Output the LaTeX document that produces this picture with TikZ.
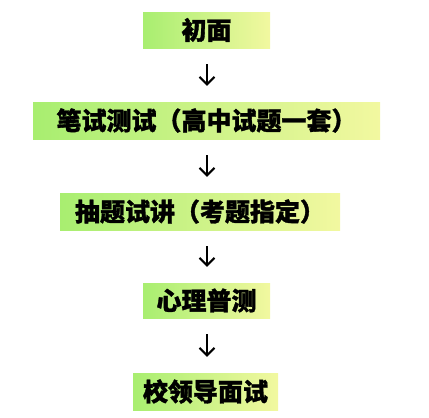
\documentclass[tikz,border=0pt]{standalone}
\usepackage{fontspec}
\newfontfamily\cjk{Noto Sans CJK SC}[BoldFeatures={FakeBold=1.3}]
\usetikzlibrary{arrows.meta}
\definecolor{gleft}{RGB}{168,238,112}
\definecolor{gright}{RGB}{242,248,160}
\tikzset{
  stepbox/.style={left color=gleft, right color=gright, draw=none, inner sep=0pt,
    font=\cjk\bfseries\fontsize{25}{28}\selectfont, text=black},
  flowarrow/.style={line width=2pt, -{Straight Barb[length=7.5pt,width=15pt,line width=2pt]},
    shorten <=16pt, shorten >=16pt}
}
\begin{document}
\begin{tikzpicture}[x=1pt,y=-1pt]
\useasboundingbox (0,0) rectangle (429,418);
\node[stepbox, minimum width=127pt, minimum height=36pt] (n1) at (206.5,30) {初面};
\node[stepbox, minimum width=347pt, minimum height=37pt] (n2) at (206.5,120.5) {笔试测试（高中试题一套）};
\node[stepbox, minimum width=280pt, minimum height=37pt] (n3) at (200,211.5) {抽题试讲（考题指定）};
\node[stepbox, minimum width=127pt, minimum height=35pt] (n4) at (206.5,300.5) {心理普测};
\node[stepbox, minimum width=145pt, minimum height=37pt] (n5) at (205.5,391.5) {校领导面试};
\draw[flowarrow] (n1.south -| 207,0) -- (n2.north -| 207,0);
\draw[flowarrow] (n2.south -| 207,0) -- (n3.north -| 207,0);
\draw[flowarrow] (n3.south -| 207,0) -- (n4.north -| 207,0);
\draw[flowarrow] (n4.south -| 207,0) -- (n5.north -| 207,0);
\end{tikzpicture}
\end{document}
